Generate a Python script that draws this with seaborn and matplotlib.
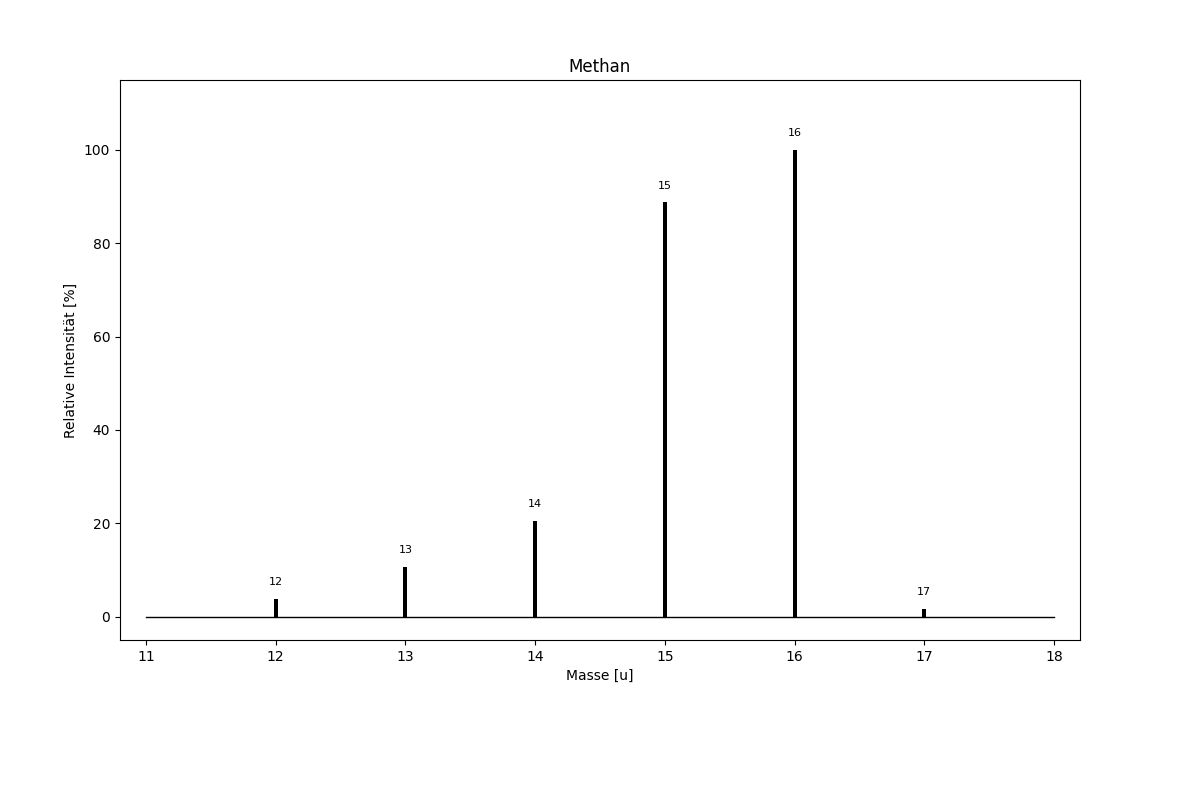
import matplotlib
matplotlib.use("Agg")
import matplotlib.pyplot as plt
import seaborn as sns
import pandas as pd

masses = [12, 13, 14, 15, 16, 17]
intensities = [3.8, 10.7, 20.5, 88.8, 100.0, 1.7]
baseline_x = [11, 18]
baseline_y = [0, 0]

df = pd.DataFrame({"masse": masses, "intens": intensities})

fig, ax = plt.subplots(figsize=(12, 8), dpi=100)
fig.subplots_adjust(left=0.1, right=0.9, top=0.9, bottom=0.2)

# baseline
sns.lineplot(x=baseline_x, y=baseline_y, color="black", linewidth=1, ax=ax)

# peaks
sns.barplot(data=df, x="masse", y="intens", native_scale=True, width=0.03,
            color="black", saturation=1, ax=ax)

for m, v in zip(masses, intensities):
    ax.text(m, v + 2.5, str(m), ha="center", va="bottom", fontsize=8)

ax.set_xlim(10.8, 18.2)
ax.set_ylim(-5, 115)
ax.set_xticks(range(11, 19))
ax.set_title("Methan")
ax.set_xlabel("Masse [u]")
ax.set_ylabel("Relative Intensität [%]")

plt.savefig("out.png")
